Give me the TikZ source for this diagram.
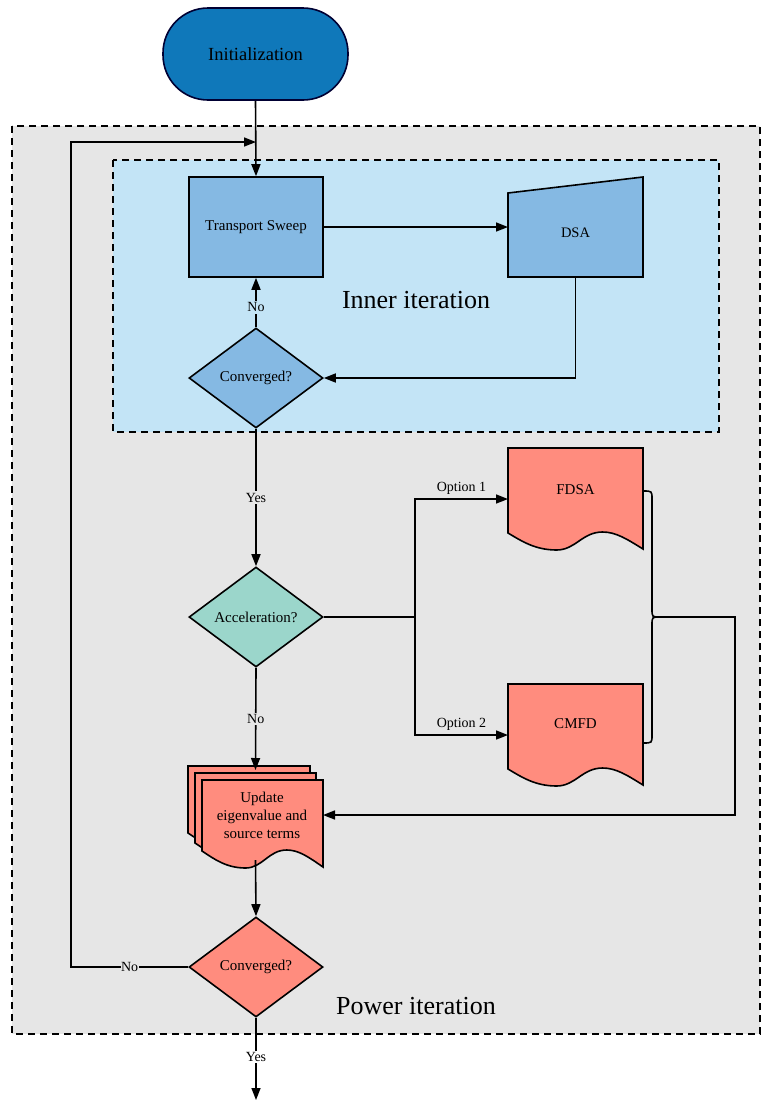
\documentclass[tikz,border=0pt]{standalone}
\usepackage{fontspec}
\setmainfont{Liberation Serif}
\usetikzlibrary{shapes.geometric,arrows.meta}
\definecolor{bggray}{HTML}{E6E6E6}
\definecolor{innerblue}{HTML}{C3E4F6}
\definecolor{boxblue}{HTML}{85B9E3}
\definecolor{initblue}{HTML}{0F78BA}
\definecolor{redfill}{HTML}{FF8C7E}
\definecolor{tealfill}{HTML}{9BD6CB}
\newcommand\docpath[5]{%
  \pgfmathsetmacro\dw{#4-#2}%
  \path[#1] (#2,#3) -- (#4,#3) -- (#4,#5)
   .. controls ({#4-0.12*\dw},{#5-10}) and ({#2+0.8*\dw},{#5-17}) .. ({#2+0.7*\dw},{#5-17})
   .. controls ({#2+0.55*\dw},{#5-17}) and ({#2+0.5*\dw},{#5+1}) .. ({#2+0.36*\dw},{#5+1})
   .. controls ({#2+0.2*\dw},{#5+1}) and ({#2+0.1*\dw},{#5-8}) .. ({#2},{#5-16}) -- cycle;}
\tikzset{
  shp/.style={draw=black, line width=1.6pt},
  conn/.style={line width=1.6pt, draw=black},
  arr/.style={conn, -{Triangle[length=12pt,width=9pt]}},
  lbl/.style={fill=bggray, inner sep=1.5pt, font=\fontsize{14}{16}\selectfont},
  ghost/.style={inner sep=0, outer sep=0, minimum width=#1},
  dia/.style={shape=diamond, shp, inner sep=0, minimum width=134pt, minimum height=100pt, font=\fontsize{15}{17}\selectfont},
  big/.style={font=\fontsize{26}{30}\selectfont},
}
\begin{document}
\begin{tikzpicture}[x=1pt,y=-1pt]
\useasboundingbox (0,0) rectangle (761,1101);
% backgrounds
\draw[fill=bggray, line width=1.3pt, dash pattern=on 7pt off 5pt] (12,126) rectangle (760,1034);
\draw[fill=innerblue, line width=1.3pt, dash pattern=on 7pt off 5pt] (113,160) rectangle (719,432);
\node[big] (inner) at (416,300) {Inner iteration};
\node[big] (power) at (416,1006) {Power iteration};
% nodes
\node[shp, fill=initblue, draw=black!80!blue, rounded corners=45pt, minimum width=185pt, minimum height=92pt, font=\fontsize{18.5}{22}\selectfont] (init) at (255.5,54) {Initialization};
\node[shp, fill=boxblue, minimum width=134pt, minimum height=100pt, font=\fontsize{15}{17}\selectfont] (ts) at (256,227) {Transport Sweep};
\path[shp, fill=boxblue] (508,193) -- (643,177) -- (643,277) -- (508,277) -- cycle;
\node[ghost=135pt, minimum height=100pt] (dsa) at (575.5,227) {};
\node[font=\fontsize{14.5}{16}\selectfont] (dsat) at (575.5,233) {DSA};
\node[dia, fill=boxblue] (c1) at (256,378) {Converged?};
\node[dia, fill=tealfill] (acc) at (256,617) {Acceleration?};
\docpath{shp, fill=redfill}{508}{448}{643}{549}
\node[ghost=135pt, minimum height=101pt] (fdsa) at (575.5,499) {};
\node[font=\fontsize{15}{17}\selectfont] (fdsat) at (575.5,490) {FDSA};
\docpath{shp, fill=redfill}{508}{684}{643}{785}
\node[ghost=135pt, minimum height=101pt] (cmfd) at (575.5,735) {};
\node[font=\fontsize{15}{17}\selectfont] (cmfdt) at (575.5,724) {CMFD};
% brace
\draw[conn] (643,491) .. controls (652,491) .. (652,499) -- (652,609) .. controls (652,617) .. (660,617)
  .. controls (652,617) .. (652,625) -- (652,735) .. controls (652,743) .. (643,743);
\coordinate (bt) at (660,617);
% update multi-document
\docpath{shp, fill=redfill}{188}{766}{310}{849}
\docpath{shp, fill=redfill}{195}{773}{316}{859}
\docpath{shp, fill=redfill}{202}{780}{323}{867}
\node[ghost=135pt, minimum height=90pt] (upd) at (255.5,815) {};
\node[align=center, font=\fontsize{15}{18}\selectfont] (updt) at (262,815) {Update\\eigenvalue and\\source terms};
\node[dia, fill=redfill] (c2) at (256,967) {Converged?};
% connectors
\coordinate (merge) at (256,142);
\draw[arr] (init.south) -- (ts.north);
\draw[arr] (ts.east) -- (dsa.west);
\draw[arr] (dsa.south) |- (c1.east);
\draw[arr] (c1.north) -- node[lbl, fill=innerblue, pos=0.4] {No} (ts.south);
\draw[arr] (c1.south) -- node[lbl] {Yes} (acc.north);
\draw[conn] (acc.east) -- (415,617) coordinate (j);
\draw[arr] (j) |- node[pos=0.75, above, font=\fontsize{14}{16}\selectfont] {Option 1} (fdsa.west);
\draw[arr] (j) |- node[pos=0.75, above, font=\fontsize{14}{16}\selectfont] {Option 2} (cmfd.west);
\draw[arr] (acc.south) -- node[lbl] {No} (upd.north);
\draw[arr] (bt) -- (735,617) |- (upd.east);
\draw[arr] (upd.south) -- (c2.north);
\draw[arr] (c2.west) -- node[lbl, inner sep=0.5pt] {No} (71,967) |- (merge);
\coordinate (end) at (256,1100);
\draw[arr] (c2.south) -- node[lbl, fill=white, pos=0.48] {Yes} (end);
\end{tikzpicture}
\end{document}
